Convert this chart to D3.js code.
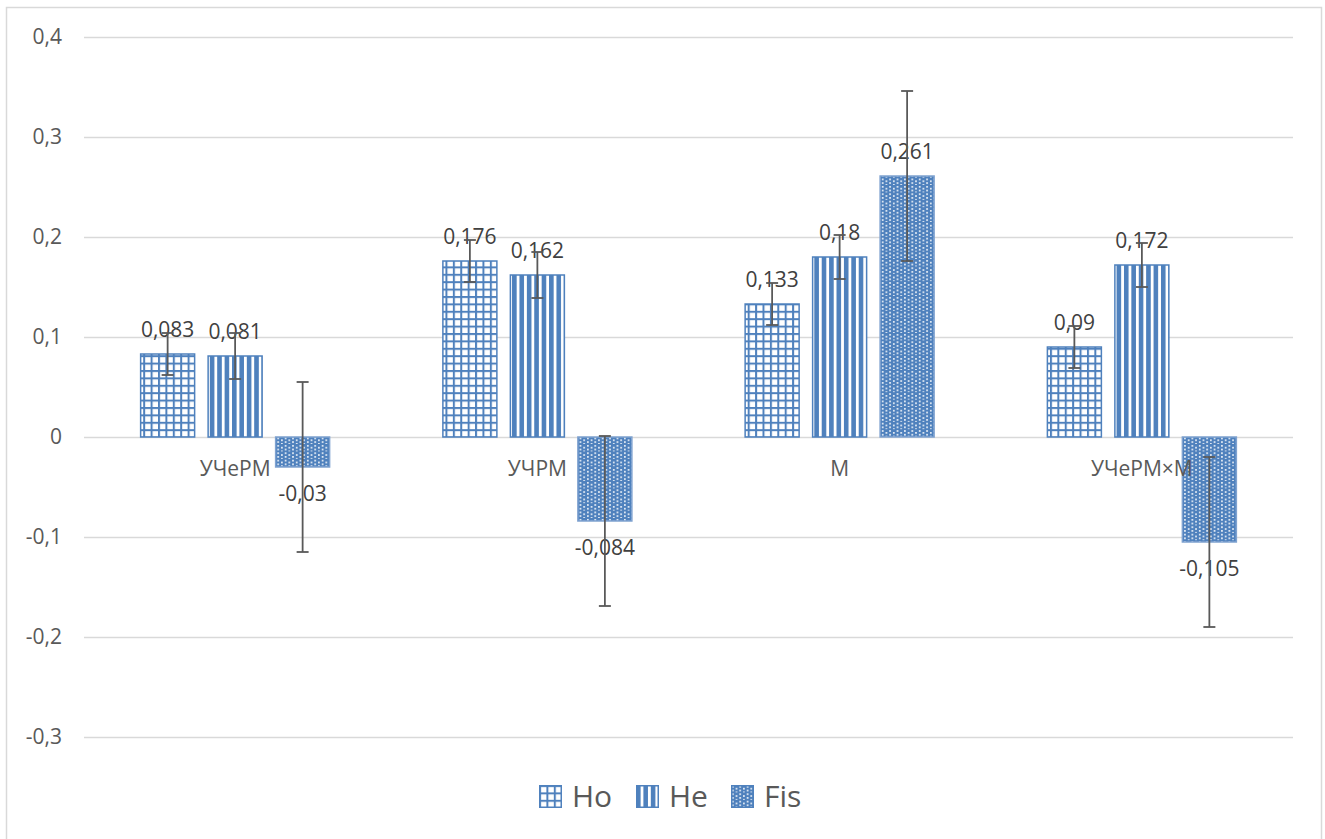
<!DOCTYPE html>
<html>
<head>
<meta charset="utf-8">
<script src="https://cdn.jsdelivr.net/npm/d3@7"></script>
<style>
  html, body { margin: 0; padding: 0; background: #fff; }
  svg { display: block; font-family: "Open Sans", "DejaVu Sans", sans-serif; }
</style>
</head>
<body>
<svg id="chart" width="1325" height="839"></svg>
<script>
const categories = ["УЧеРМ", "УЧРМ", "М", "УЧеРМ×М"];
const seriesNames = ["Ho", "He", "Fis"];
const hoValues = [0.083, 0.176, 0.133, 0.09];
const heValues = [0.081, 0.162, 0.18, 0.172];
const fisValues = [-0.03, -0.084, 0.261, -0.105];
const hoErrors = [0.021, 0.021, 0.021, 0.021];
const heErrors = [0.023, 0.023, 0.022, 0.022];
const fisErrors = [0.085, 0.085, 0.085, 0.085];
const yTicks = [-0.3, -0.2, -0.1, 0, 0.1, 0.2, 0.3, 0.4];

const seriesValues = { Ho: hoValues, He: heValues, Fis: fisValues };
const seriesErrors = { Ho: hoErrors, He: heErrors, Fis: fisErrors };

const blue = "#4F81BD";
const textColor = "#595959";
const labelColor = "#404040";
const gridColor = "#D9D9D9";

const svg = d3.select("#chart");

// patterns
const defs = svg.append("defs");
const P = 7.4;
// Ho: small grid
const pHo = defs.append("pattern").attr("id", "pat-Ho").attr("patternUnits", "userSpaceOnUse")
  .attr("width", P).attr("height", P);
pHo.append("rect").attr("width", P).attr("height", P).attr("fill", "#fff");
pHo.append("rect").attr("x", 0).attr("y", 0).attr("width", 2).attr("height", P).attr("fill", blue);
pHo.append("rect").attr("x", 0).attr("y", 0).attr("width", P).attr("height", 2).attr("fill", blue);
// He: wide vertical stripes
const pHe = defs.append("pattern").attr("id", "pat-He").attr("patternUnits", "userSpaceOnUse")
  .attr("width", P).attr("height", P);
pHe.append("rect").attr("width", P).attr("height", P).attr("fill", "#fff");
pHe.append("rect").attr("x", 0).attr("y", 0).attr("width", 4.6).attr("height", P).attr("fill", blue);
// Fis: blue with white dots
const pFis = defs.append("pattern").attr("id", "pat-Fis").attr("patternUnits", "userSpaceOnUse")
  .attr("width", P).attr("height", P);
pFis.append("rect").attr("width", P).attr("height", P).attr("fill", blue);
[[1, 1], [4.7, 2.85], [1, 4.7], [4.7, 6.55]].forEach(([x, yy]) => {
  pFis.append("rect").attr("x", x).attr("y", yy).attr("width", 1.6).attr("height", 1.6).attr("fill", "#fff");
});

// outer border
svg.append("rect").attr("x", 6.5).attr("y", 7.5).attr("width", 1315).attr("height", 840)
  .attr("fill", "none").attr("stroke", gridColor).attr("stroke-width", 1.5);

const x0 = d3.scaleBand().domain(categories).range([84, 1293]).paddingInner(0).paddingOuter(0);
const x1 = d3.scaleBand().domain(seriesNames).range([0, x0.bandwidth()]).paddingInner(0.2).paddingOuter(0.839);
const y = d3.scaleLinear().domain([-0.3, 0.4]).range([737, 37]);

const fmt = v => String(+v.toFixed(3)).replace(".", ",");

// gridlines via axis
const yAxis = d3.axisLeft(y).tickValues(yTicks).tickSize(-(1293 - 84)).tickFormat(d => fmt(d)).tickPadding(22);
const gAxis = svg.append("g").attr("transform", "translate(84,0)").call(yAxis);
gAxis.select(".domain").remove();
gAxis.selectAll(".tick line").attr("stroke", gridColor).attr("stroke-width", 1.5);
gAxis.selectAll(".tick text").attr("fill", textColor).style("font-size", "21px")
  .style("font-family", '"Open Sans", sans-serif');

// bars
const groups = svg.append("g").selectAll("g").data(categories).join("g")
  .attr("transform", d => `translate(${x0(d)},0)`);

seriesNames.forEach(s => {
  groups.append("rect")
    .attr("x", x1(s))
    .attr("width", x1.bandwidth())
    .attr("y", (d, i) => y(Math.max(0, seriesValues[s][i])))
    .attr("height", (d, i) => Math.abs(y(seriesValues[s][i]) - y(0)))
    .attr("fill", `url(#pat-${s})`)
    .attr("stroke", s === "Fis" ? "#7FA2D0" : blue)
    .attr("stroke-width", 1.5);
});

// category labels (just below zero line)
groups.append("text")
  .attr("x", x0.bandwidth() / 2)
  .attr("y", y(0) + 39)
  .attr("text-anchor", "middle")
  .attr("fill", textColor)
  .style("font-size", "21px")
  .text(d => d);

// value labels
seriesNames.forEach(s => {
  groups.append("text")
    .attr("x", x1(s) + x1.bandwidth() / 2)
    .attr("y", (d, i) => {
      const v = seriesValues[s][i];
      return v >= 0 ? y(v) - 17.5 : y(v) + 34;
    })
    .attr("text-anchor", "middle")
    .attr("fill", labelColor)
    .style("font-size", "21px")
    .text((d, i) => fmt(seriesValues[s][i]));
});

// error bars
seriesNames.forEach(s => {
  const cx = d => x1(s) + x1.bandwidth() / 2;
  groups.append("line")
    .attr("x1", cx).attr("x2", cx)
    .attr("y1", (d, i) => y(seriesValues[s][i] + seriesErrors[s][i]))
    .attr("y2", (d, i) => y(seriesValues[s][i] - seriesErrors[s][i]))
    .attr("stroke", textColor).attr("stroke-width", 1.8);
  [1, -1].forEach(sign => {
    groups.append("line")
      .attr("x1", d => cx(d) - 6).attr("x2", d => cx(d) + 6)
      .attr("y1", (d, i) => y(seriesValues[s][i] + sign * seriesErrors[s][i]))
      .attr("y2", (d, i) => y(seriesValues[s][i] + sign * seriesErrors[s][i]))
      .attr("stroke", textColor).attr("stroke-width", 1.8);
  });
});

// legend
const legendX = [539, 636, 731];
const legend = svg.append("g").selectAll("g").data(seriesNames).join("g")
  .attr("transform", (d, i) => `translate(${legendX[i]},785)`);
legend.append("rect").attr("x", 0.75).attr("y", 0.75).attr("width", 21.5).attr("height", 21.5)
  .attr("fill", d => `url(#pat-${d})`).attr("stroke", blue).attr("stroke-width", 1.5);
legend.append("text").attr("x", 33).attr("y", 22).attr("fill", textColor)
  .style("font-size", "30px").text(d => d);
</script>
</body>
</html>
